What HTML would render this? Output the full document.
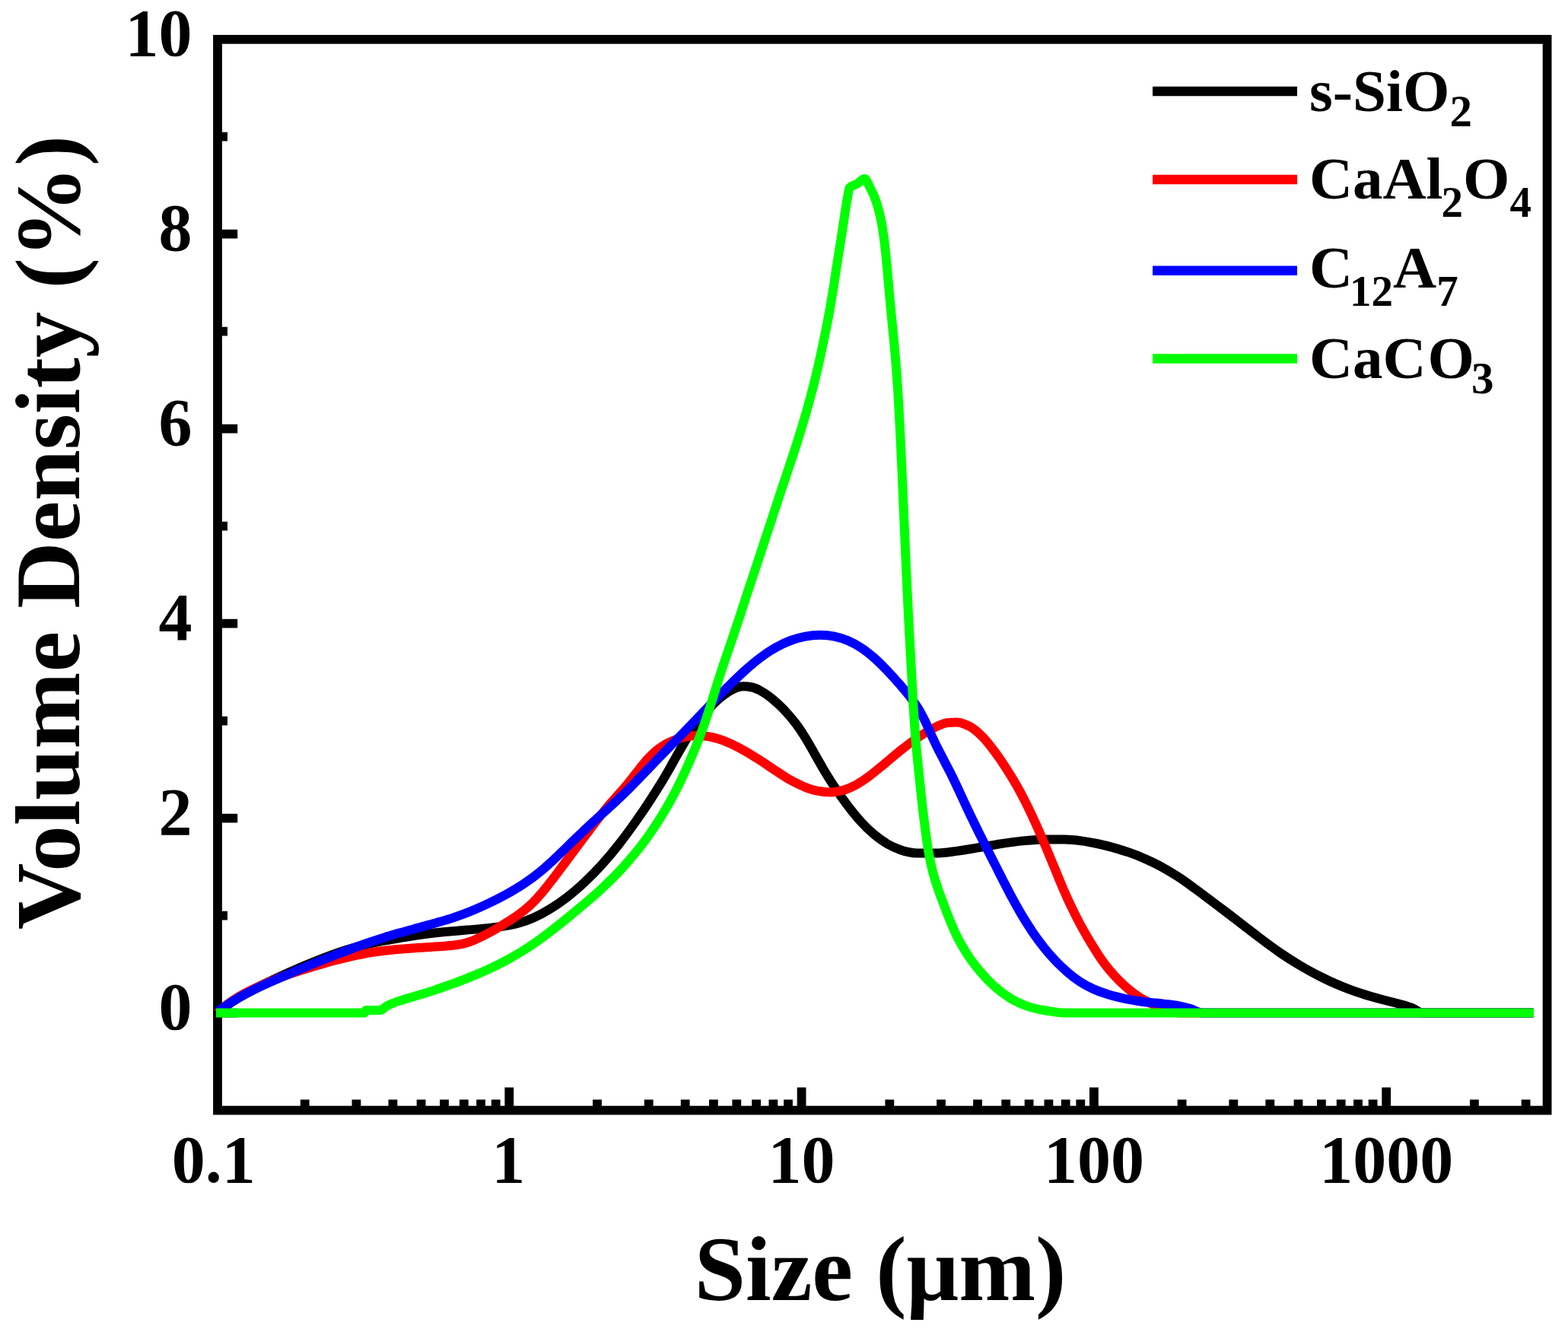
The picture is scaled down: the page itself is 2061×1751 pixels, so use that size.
<!DOCTYPE html>
<html><head><meta charset="utf-8"><title>Volume Density vs Size</title>
<style>html,body{margin:0;padding:0;background:#fff;}svg{display:block;}</style>
</head><body>
<svg width="2061" height="1751" viewBox="0 0 2061 1751"><rect x="0" y="0" width="2061" height="1751" fill="#fff"/>
<rect x="286.0" y="51.8" width="1747.6" height="1407.8" fill="none" stroke="#000" stroke-width="11.8"/>
<path d="M286.0,1331.6 h26.2 M286.0,1203.6 h13.0 M286.0,1075.6 h26.2 M286.0,947.6 h13.0 M286.0,819.6 h26.2 M286.0,691.6 h13.0 M286.0,563.6 h26.2 M286.0,435.6 h13.0 M286.0,307.6 h26.2 M286.0,179.6 h13.0 M400.7,1459.6 v-14.0 M468.4,1459.6 v-14.0 M516.4,1459.6 v-14.0 M553.6,1459.6 v-14.0 M584.0,1459.6 v-14.0 M609.8,1459.6 v-14.0 M632.1,1459.6 v-14.0 M651.7,1459.6 v-14.0 M669.3,1459.6 v-30.0 M785.0,1459.6 v-14.0 M852.7,1459.6 v-14.0 M900.7,1459.6 v-14.0 M937.9,1459.6 v-14.0 M968.3,1459.6 v-14.0 M994.1,1459.6 v-14.0 M1016.4,1459.6 v-14.0 M1036.0,1459.6 v-14.0 M1053.6,1459.6 v-30.0 M1169.3,1459.6 v-14.0 M1237.0,1459.6 v-14.0 M1285.0,1459.6 v-14.0 M1322.2,1459.6 v-14.0 M1352.6,1459.6 v-14.0 M1378.4,1459.6 v-14.0 M1400.7,1459.6 v-14.0 M1420.3,1459.6 v-14.0 M1437.9,1459.6 v-30.0 M1553.6,1459.6 v-14.0 M1621.3,1459.6 v-14.0 M1669.3,1459.6 v-14.0 M1706.5,1459.6 v-14.0 M1736.9,1459.6 v-14.0 M1762.7,1459.6 v-14.0 M1785.0,1459.6 v-14.0 M1804.6,1459.6 v-14.0 M1822.2,1459.6 v-30.0 M1937.9,1459.6 v-14.0 M2005.6,1459.6 v-14.0" stroke="#000" stroke-width="11.8" fill="none"/>
<path d="M285.6,1331.6 C289.9,1328.3 294.2,1324.7 298.5,1321.7 C303.9,1317.8 309.3,1314.5 314.7,1311.2 C321.1,1307.4 327.4,1304.0 333.8,1300.6 C340.8,1296.8 347.7,1293.4 354.7,1290.0 C362.4,1286.3 370.1,1282.8 377.8,1279.3 C386.3,1275.5 394.9,1271.7 403.5,1268.1 C412.9,1264.2 422.3,1260.3 431.8,1256.8 C441.5,1253.2 451.3,1249.8 461.0,1247.0 C470.3,1244.3 479.5,1242.0 488.8,1239.9 C497.2,1238.1 505.7,1236.5 514.1,1235.0 C522.1,1233.6 530.1,1232.2 538.1,1231.0 C546.1,1229.7 554.1,1228.5 562.2,1227.5 C570.5,1226.5 578.9,1225.6 587.3,1224.8 C595.9,1224.0 604.5,1223.4 613.1,1222.6 C621.5,1221.9 629.8,1221.3 638.2,1220.4 C645.7,1219.6 653.2,1219.0 660.7,1217.7 C667.4,1216.6 674.2,1215.5 680.9,1213.7 C687.7,1211.8 694.5,1209.4 701.2,1206.4 C708.5,1203.3 715.8,1199.4 723.0,1194.9 C730.6,1190.3 738.1,1185.1 745.7,1179.2 C753.3,1173.3 760.9,1166.8 768.5,1159.7 C776.1,1152.5 783.8,1144.8 791.4,1136.3 C799.0,1127.9 806.6,1118.8 814.2,1109.0 C821.6,1099.6 829.0,1089.4 836.4,1078.9 C842.7,1069.9 849.1,1060.5 855.4,1050.7 C860.2,1043.4 864.9,1036.0 869.7,1028.2 C873.4,1022.0 877.1,1015.6 880.8,1009.1 C884.3,1002.8 887.9,996.2 891.5,990.0 C895.3,983.3 899.1,976.6 902.9,970.5 C907.4,963.4 911.9,956.8 916.3,950.8 C921.5,943.7 926.8,937.3 932.0,931.6 C937.5,925.7 943.0,920.3 948.5,915.9 C953.5,911.9 958.6,908.3 963.6,906.0 C968.0,904.0 972.3,902.3 976.7,902.3 C980.6,902.3 984.6,902.7 988.5,903.5 C992.3,904.3 996.2,906.2 1000.0,908.2 C1003.8,910.3 1007.6,912.8 1011.4,915.7 C1015.2,918.6 1019.0,921.9 1022.8,925.4 C1026.6,929.0 1030.5,932.8 1034.3,937.1 C1038.2,941.4 1042.1,946.0 1046.0,951.2 C1050.1,956.6 1054.1,962.7 1058.1,969.2 C1062.1,975.6 1066.2,982.9 1070.2,989.9 C1074.2,996.8 1078.2,1004.2 1082.2,1011.0 C1086.8,1018.8 1091.4,1026.2 1096.1,1033.3 C1101.7,1041.9 1107.3,1049.9 1113.0,1057.4 C1119.1,1065.5 1125.1,1073.1 1131.2,1079.7 C1137.1,1086.2 1143.0,1092.0 1148.9,1096.9 C1154.6,1101.7 1160.3,1105.7 1165.9,1109.1 C1171.8,1112.5 1177.7,1115.2 1183.7,1117.2 C1190.7,1119.6 1197.7,1121.3 1204.7,1121.4 C1213.1,1121.5 1221.5,1121.6 1229.9,1121.6 C1238.9,1121.6 1248.0,1120.1 1257.1,1118.9 C1266.4,1117.7 1275.7,1115.9 1285.0,1114.4 C1294.8,1112.8 1304.6,1110.9 1314.4,1109.4 C1324.4,1107.9 1334.4,1106.4 1344.4,1105.4 C1354.0,1104.5 1363.5,1103.5 1373.1,1103.5 C1381.7,1103.5 1390.3,1103.5 1398.8,1103.6 C1406.3,1103.6 1413.8,1104.4 1421.3,1105.4 C1428.2,1106.3 1435.1,1107.6 1442.1,1109.0 C1449.0,1110.5 1456.0,1112.2 1462.9,1114.1 C1470.0,1116.1 1477.1,1118.2 1484.2,1120.7 C1491.4,1123.2 1498.5,1126.0 1505.7,1129.2 C1512.8,1132.3 1520.0,1135.8 1527.1,1139.7 C1534.2,1143.6 1541.4,1147.9 1548.5,1152.6 C1555.6,1157.2 1562.7,1162.4 1569.7,1167.5 C1576.6,1172.5 1583.4,1177.7 1590.2,1182.8 C1596.8,1187.7 1603.3,1192.7 1609.9,1197.6 C1616.9,1202.9 1623.8,1208.3 1630.8,1213.7 C1638.9,1219.9 1646.9,1226.3 1655.0,1232.3 C1663.8,1239.0 1672.7,1245.6 1681.5,1251.7 C1690.6,1257.9 1699.6,1263.7 1708.7,1269.1 C1717.8,1274.5 1726.8,1279.5 1735.9,1284.0 C1744.9,1288.6 1754.0,1292.7 1763.0,1296.4 C1772.1,1300.1 1781.1,1303.4 1790.2,1306.3 C1799.0,1309.2 1807.8,1311.6 1816.7,1314.0 C1824.4,1316.1 1832.1,1317.6 1839.8,1319.9 C1845.6,1321.6 1851.4,1323.1 1857.2,1325.5 C1861.5,1327.2 1865.7,1331.6 1870.0,1331.6 C1918.7,1331.6 1967.3,1331.6 2016.0,1331.6" fill="none" stroke="#000" stroke-width="12" stroke-linejoin="round"/>
<path d="M285.6,1331.6 C289.9,1327.9 294.2,1323.8 298.5,1320.4 C304.1,1316.1 309.7,1312.7 315.3,1309.3 C322.4,1305.1 329.6,1301.7 336.7,1298.3 C344.8,1294.5 352.8,1291.1 360.9,1287.8 C369.1,1284.5 377.4,1281.6 385.6,1278.8 C393.4,1276.1 401.1,1273.7 408.9,1271.4 C416.0,1269.2 423.1,1267.2 430.2,1265.2 C436.7,1263.4 443.2,1261.8 449.7,1260.2 C455.8,1258.7 461.8,1257.3 467.9,1256.0 C474.0,1254.7 480.2,1253.4 486.4,1252.4 C494.1,1251.1 501.7,1250.1 509.4,1249.2 C519.1,1248.1 528.8,1247.4 538.5,1246.7 C548.4,1245.9 558.3,1245.4 568.2,1244.8 C576.1,1244.2 584.0,1244.0 591.9,1243.0 C597.4,1242.4 602.9,1242.0 608.5,1240.6 C613.2,1239.5 617.9,1237.9 622.6,1236.1 C628.0,1233.9 633.3,1231.1 638.7,1228.4 C644.7,1225.3 650.7,1221.9 656.7,1218.3 C662.5,1214.9 668.2,1211.5 674.0,1207.6 C678.8,1204.4 683.6,1201.1 688.4,1197.2 C692.4,1194.0 696.3,1190.5 700.3,1186.6 C704.0,1182.9 707.8,1178.8 711.5,1174.5 C715.3,1170.1 719.1,1165.3 722.8,1160.4 C726.6,1155.6 730.5,1150.4 734.3,1145.3 C738.1,1140.2 741.9,1135.1 745.8,1130.0 C749.8,1124.6 753.8,1119.3 757.8,1114.0 C762.2,1108.2 766.5,1102.3 770.9,1096.5 C775.5,1090.4 780.0,1084.1 784.6,1078.2 C789.3,1072.1 793.9,1066.2 798.6,1060.6 C803.2,1055.1 807.9,1050.1 812.5,1044.8 C816.9,1039.7 821.3,1034.9 825.7,1029.5 C829.9,1024.5 834.1,1018.8 838.3,1013.6 C842.4,1008.4 846.6,1002.9 850.7,998.4 C854.8,993.9 858.9,989.8 863.0,986.4 C867.3,982.8 871.5,980.1 875.8,977.7 C880.5,975.1 885.2,973.2 889.9,971.6 C894.7,969.9 899.4,968.7 904.2,968.0 C908.8,967.3 913.3,967.0 917.9,967.0 C922.2,967.0 926.4,967.4 930.7,968.1 C934.9,968.8 939.2,969.8 943.4,971.0 C948.4,972.5 953.5,974.5 958.5,976.7 C964.9,979.5 971.4,982.9 977.8,986.4 C985.0,990.5 992.3,995.1 999.6,999.8 C1006.6,1004.3 1013.6,1009.4 1020.7,1013.9 C1027.0,1018.0 1033.3,1022.3 1039.6,1025.8 C1045.5,1029.0 1051.3,1031.9 1057.1,1034.3 C1062.8,1036.5 1068.6,1038.5 1074.3,1039.6 C1080.0,1040.8 1085.7,1041.4 1091.4,1041.4 C1097.1,1041.4 1102.8,1040.4 1108.5,1038.7 C1114.2,1037.1 1120.0,1034.5 1125.7,1031.4 C1131.2,1028.4 1136.8,1024.5 1142.4,1020.4 C1147.4,1016.7 1152.4,1012.5 1157.5,1008.4 C1161.7,1005.0 1165.8,1001.3 1170.0,997.8 C1173.8,994.6 1177.6,991.4 1181.4,988.3 C1186.0,984.7 1190.5,981.1 1195.0,977.7 C1200.8,973.4 1206.5,969.4 1212.3,965.7 C1218.2,962.0 1224.2,958.3 1230.1,955.6 C1235.1,953.3 1240.1,950.7 1245.1,950.1 C1249.2,949.7 1253.3,949.5 1257.5,949.5 C1261.4,949.5 1265.2,950.8 1269.1,952.4 C1272.9,953.9 1276.8,956.0 1280.6,958.8 C1284.8,961.9 1289.0,965.9 1293.2,970.4 C1297.9,975.6 1302.7,981.8 1307.5,988.2 C1312.5,994.9 1317.5,1002.2 1322.5,1010.0 C1327.1,1017.2 1331.7,1024.6 1336.4,1032.8 C1340.4,1040.0 1344.5,1047.6 1348.5,1055.6 C1352.1,1062.9 1355.8,1070.5 1359.4,1078.5 C1362.8,1085.8 1366.1,1093.4 1369.4,1101.2 C1372.5,1108.4 1375.7,1115.9 1378.8,1123.3 C1381.8,1130.5 1384.8,1137.9 1387.8,1145.1 C1390.8,1152.6 1393.9,1160.1 1397.0,1167.3 C1400.4,1175.1 1403.8,1182.8 1407.2,1190.0 C1410.9,1197.8 1414.6,1205.2 1418.3,1212.2 C1422.0,1219.1 1425.6,1225.4 1429.2,1231.7 C1432.4,1237.1 1435.6,1242.4 1438.8,1247.5 C1441.8,1252.3 1444.9,1257.2 1447.9,1261.5 C1451.4,1266.6 1455.0,1271.2 1458.5,1275.4 C1462.6,1280.3 1466.7,1284.6 1470.8,1288.7 C1475.0,1292.9 1479.2,1296.8 1483.4,1300.3 C1487.8,1304.0 1492.2,1307.3 1496.6,1310.2 C1501.8,1313.6 1506.9,1316.3 1512.1,1318.7 C1518.2,1321.6 1524.2,1323.7 1530.3,1325.8 C1536.9,1328.1 1543.4,1331.6 1550.0,1331.6 C1705.3,1331.6 1860.7,1331.6 2016.0,1331.6" fill="none" stroke="#f00" stroke-width="12" stroke-linejoin="round"/>
<path d="M285.6,1330.0 C289.9,1327.0 294.2,1323.8 298.6,1321.0 C304.0,1317.4 309.3,1314.1 314.7,1311.0 C321.0,1307.4 327.2,1304.2 333.5,1301.1 C340.0,1297.9 346.4,1294.9 352.9,1292.0 C359.4,1289.1 365.8,1286.3 372.3,1283.5 C378.8,1280.7 385.3,1277.9 391.7,1275.2 C398.2,1272.5 404.7,1269.8 411.2,1267.1 C417.6,1264.5 424.1,1261.9 430.6,1259.3 C437.0,1256.8 443.3,1254.3 449.7,1251.9 C455.8,1249.6 461.8,1247.2 467.9,1245.0 C473.8,1242.8 479.7,1240.7 485.7,1238.7 C492.1,1236.5 498.6,1234.4 505.1,1232.4 C512.3,1230.1 519.6,1228.0 526.8,1225.9 C534.5,1223.7 542.2,1221.7 549.9,1219.6 C557.7,1217.4 565.4,1215.4 573.2,1213.2 C581.0,1210.9 588.7,1208.7 596.5,1206.1 C604.2,1203.5 612.0,1200.7 619.7,1197.5 C627.5,1194.4 635.2,1190.9 643.0,1187.2 C650.8,1183.5 658.5,1179.6 666.2,1175.3 C673.9,1171.0 681.6,1166.5 689.3,1161.3 C696.8,1156.2 704.4,1150.6 711.9,1144.3 C719.5,1138.1 727.0,1130.9 734.5,1123.8 C742.0,1116.7 749.6,1108.9 757.2,1101.7 C764.7,1094.5 772.2,1087.4 779.7,1080.5 C787.0,1073.8 794.2,1067.6 801.4,1060.9 C808.2,1054.6 815.1,1048.3 821.9,1041.7 C828.6,1035.1 835.4,1028.1 842.1,1021.1 C849.2,1013.8 856.3,1006.3 863.4,998.9 C870.8,991.2 878.3,983.7 885.7,976.0 C893.3,968.3 900.9,960.6 908.4,952.8 C916.0,945.0 923.6,937.0 931.2,929.1 C938.9,921.3 946.5,913.2 954.1,905.6 C961.7,898.0 969.3,890.4 976.9,883.5 C984.2,876.9 991.5,870.5 998.9,865.0 C1005.8,859.8 1012.7,855.1 1019.6,851.2 C1026.2,847.5 1032.7,844.4 1039.3,842.0 C1045.8,839.6 1052.2,837.8 1058.7,836.6 C1065.2,835.3 1071.7,834.7 1078.2,834.7 C1084.4,834.7 1090.6,835.3 1096.7,836.6 C1102.6,837.8 1108.4,839.6 1114.2,842.1 C1119.9,844.6 1125.7,847.6 1131.4,851.3 C1137.1,855.0 1142.8,859.5 1148.5,864.4 C1154.2,869.3 1159.8,875.0 1165.5,880.9 C1170.8,886.5 1176.2,892.4 1181.6,898.6 C1186.4,904.1 1191.1,909.3 1195.9,915.6 C1199.8,920.7 1203.6,925.6 1207.4,932.0 C1210.4,937.0 1213.3,942.6 1216.3,948.7 C1218.8,954.0 1221.4,960.2 1224.0,965.7 C1226.7,971.6 1229.4,977.4 1232.1,982.8 C1235.1,989.0 1238.2,994.6 1241.2,1000.5 C1244.6,1007.1 1248.0,1013.4 1251.4,1020.2 C1254.9,1027.3 1258.4,1034.9 1261.9,1042.5 C1265.5,1050.2 1269.2,1058.2 1272.8,1065.9 C1276.5,1073.9 1280.3,1081.6 1284.1,1089.2 C1287.9,1097.1 1291.8,1104.6 1295.6,1112.2 C1299.4,1119.8 1303.2,1127.2 1306.9,1134.7 C1310.7,1142.1 1314.4,1149.6 1318.2,1156.9 C1322.1,1164.5 1326.0,1172.3 1330.0,1179.6 C1334.4,1187.7 1338.8,1195.6 1343.2,1203.1 C1348.1,1211.2 1353.0,1218.9 1357.8,1226.1 C1362.8,1233.4 1367.9,1240.2 1372.9,1246.4 C1378.0,1252.8 1383.1,1258.5 1388.2,1263.8 C1393.5,1269.2 1398.7,1274.2 1403.9,1278.7 C1409.2,1283.2 1414.5,1287.2 1419.8,1290.7 C1425.5,1294.4 1431.2,1297.3 1436.9,1300.0 C1443.4,1303.0 1450.0,1305.2 1456.6,1307.3 C1464.3,1309.7 1472.1,1311.5 1479.8,1313.1 C1488.3,1314.9 1496.8,1316.1 1505.3,1317.2 C1513.3,1318.2 1521.3,1318.7 1529.3,1319.6 C1535.8,1320.4 1542.2,1320.9 1548.7,1322.1 C1554.0,1323.2 1559.4,1324.5 1564.7,1326.1 C1569.8,1327.7 1574.9,1331.6 1580.0,1331.6 C1725.3,1331.6 1870.7,1331.6 2016.0,1331.6" fill="none" stroke="#00f" stroke-width="12" stroke-linejoin="round"/>
<path d="M284.0,1331.6 C349.0,1331.6 414.0,1331.6 479.0,1331.6 C479.7,1331.6 480.3,1328.0 481.0,1328.0 C487.0,1328.0 493.0,1328.0 499.0,1328.0 C502.3,1328.0 505.6,1323.9 508.8,1322.2 C512.9,1320.1 517.0,1318.5 521.0,1317.0 C526.1,1315.1 531.1,1313.8 536.2,1312.2 C541.9,1310.5 547.6,1309.0 553.3,1307.3 C559.3,1305.5 565.2,1303.6 571.2,1301.6 C577.3,1299.6 583.5,1297.4 589.6,1295.2 C595.9,1292.9 602.2,1290.6 608.6,1288.1 C615.0,1285.6 621.5,1283.1 627.9,1280.4 C634.4,1277.6 640.8,1274.8 647.3,1271.7 C653.8,1268.6 660.3,1265.3 666.7,1261.8 C673.2,1258.3 679.7,1254.5 686.2,1250.5 C692.7,1246.5 699.2,1242.1 705.7,1237.6 C712.4,1232.9 719.0,1227.9 725.7,1222.7 C732.7,1217.4 739.7,1211.7 746.6,1206.0 C754.0,1200.1 761.3,1194.0 768.7,1187.7 C776.2,1181.3 783.8,1174.8 791.3,1167.8 C798.9,1160.7 806.5,1153.5 814.0,1145.4 C821.3,1137.7 828.5,1129.6 835.7,1120.6 C842.0,1112.7 848.4,1104.4 854.7,1095.3 C859.7,1088.0 864.8,1080.5 869.9,1072.2 C873.9,1065.7 877.8,1059.0 881.8,1051.7 C885.3,1045.4 888.7,1038.8 892.2,1031.7 C895.5,1025.0 898.8,1018.0 902.1,1010.6 C905.3,1003.5 908.5,996.1 911.7,988.4 C914.7,981.1 917.8,973.7 920.8,965.6 C923.5,958.4 926.2,950.9 928.9,942.8 C931.3,935.6 933.7,927.7 936.2,920.0 C938.5,912.5 940.9,904.7 943.2,897.3 C945.6,889.8 948.0,882.4 950.3,875.3 C952.7,868.2 955.1,861.4 957.5,854.4 C959.9,847.4 962.3,840.5 964.6,833.4 C967.2,825.7 969.8,817.9 972.4,810.1 C975.2,801.6 978.0,792.8 980.8,784.2 C983.8,775.2 986.8,766.1 989.8,757.1 C992.8,747.9 995.9,738.8 998.9,729.6 C1001.9,720.5 1004.9,711.4 1007.9,702.2 C1011.0,693.0 1014.0,683.7 1017.0,674.5 C1020.2,664.8 1023.4,655.1 1026.6,645.4 C1030.2,634.6 1033.8,624.0 1037.4,613.1 C1041.2,601.4 1045.1,589.9 1049.0,577.6 C1052.7,565.7 1056.4,553.8 1060.1,540.7 C1063.3,529.2 1066.6,517.4 1069.9,504.3 C1072.6,493.1 1075.4,481.3 1078.2,468.7 C1080.6,457.8 1083.0,446.5 1085.4,434.4 C1087.4,424.5 1089.3,414.6 1091.3,403.4 C1092.7,395.0 1094.2,386.1 1095.7,376.9 C1096.8,369.6 1098.0,361.6 1099.1,354.1 C1100.2,347.0 1101.3,340.0 1102.4,333.1 C1103.5,326.2 1104.6,319.6 1105.7,312.6 C1106.7,306.1 1107.7,299.4 1108.7,292.7 C1109.6,286.7 1110.5,280.3 1111.4,274.6 C1112.3,269.3 1113.1,264.2 1114.0,259.5 C1114.8,255.0 1115.7,247.9 1116.5,247.0 C1119.9,243.3 1123.4,243.6 1126.8,241.5 C1130.0,239.5 1133.3,235.0 1136.5,235.0 C1138.8,235.0 1141.1,241.9 1143.4,246.2 C1145.4,250.0 1147.4,253.7 1149.5,259.0 C1151.2,263.4 1152.8,268.0 1154.5,274.5 C1155.9,279.7 1157.3,285.1 1158.7,292.7 C1159.7,298.5 1160.7,304.6 1161.8,312.6 C1162.6,318.7 1163.4,325.4 1164.2,333.1 C1164.8,339.5 1165.5,346.8 1166.2,354.1 C1166.8,361.4 1167.5,369.4 1168.2,376.9 C1169.0,385.9 1169.8,394.7 1170.6,403.4 C1171.6,414.0 1172.6,423.8 1173.6,434.4 C1174.7,445.6 1175.7,456.1 1176.8,468.7 C1177.7,479.7 1178.6,490.6 1179.5,504.3 C1180.3,515.3 1181.0,527.4 1181.7,540.9 C1182.4,552.7 1183.0,566.0 1183.7,579.4 C1184.3,592.6 1184.9,606.7 1185.6,620.7 C1186.2,635.3 1186.9,650.3 1187.5,665.3 C1188.2,680.6 1188.8,696.3 1189.5,711.5 C1190.2,726.7 1190.8,742.0 1191.5,756.5 C1192.2,770.9 1192.8,784.7 1193.5,798.0 C1194.1,810.9 1194.8,823.1 1195.4,835.3 C1196.0,846.8 1196.7,857.8 1197.3,869.2 C1197.8,879.7 1198.4,890.6 1199.0,901.0 C1199.5,911.5 1200.1,922.4 1200.7,931.9 C1201.4,943.3 1202.1,953.2 1202.8,962.5 C1203.7,974.5 1204.6,983.9 1205.5,993.7 C1206.6,1005.5 1207.7,1015.8 1208.8,1026.2 C1210.0,1037.9 1211.2,1049.1 1212.4,1059.8 C1213.8,1071.4 1215.1,1082.7 1216.4,1092.6 C1217.9,1103.6 1219.3,1113.5 1220.8,1121.9 C1222.5,1131.8 1224.2,1139.0 1226.0,1146.0 C1228.1,1154.5 1230.2,1160.2 1232.3,1166.5 C1234.7,1174.0 1237.2,1180.3 1239.7,1186.9 C1242.5,1194.4 1245.3,1201.9 1248.1,1208.7 C1251.4,1216.9 1254.7,1224.6 1258.1,1231.4 C1262.4,1240.3 1266.8,1247.3 1271.1,1254.1 C1276.6,1262.8 1282.2,1269.7 1287.7,1276.3 C1294.1,1284.0 1300.5,1290.5 1306.8,1296.3 C1313.6,1302.5 1320.5,1307.6 1327.3,1311.9 C1334.2,1316.2 1341.2,1319.3 1348.2,1322.0 C1354.8,1324.4 1361.4,1326.0 1368.0,1327.4 C1373.7,1328.6 1379.5,1329.3 1385.2,1330.1 C1390.1,1330.7 1395.1,1331.6 1400.0,1331.6 C1605.3,1331.6 1810.7,1331.6 2016.0,1331.6" fill="none" stroke="#0f0" stroke-width="12" stroke-linejoin="round"/>
<text x="252.5" y="1352.6" font-family="'Liberation Serif', 'Times New Roman', serif" font-weight="bold" font-size="88" text-anchor="end">0</text>
<text x="252.5" y="1096.6" font-family="'Liberation Serif', 'Times New Roman', serif" font-weight="bold" font-size="88" text-anchor="end">2</text>
<text x="252.5" y="840.6" font-family="'Liberation Serif', 'Times New Roman', serif" font-weight="bold" font-size="88" text-anchor="end">4</text>
<text x="252.5" y="584.6" font-family="'Liberation Serif', 'Times New Roman', serif" font-weight="bold" font-size="88" text-anchor="end">6</text>
<text x="252.5" y="328.6" font-family="'Liberation Serif', 'Times New Roman', serif" font-weight="bold" font-size="88" text-anchor="end">8</text>
<text x="252.5" y="72.6" font-family="'Liberation Serif', 'Times New Roman', serif" font-weight="bold" font-size="88" text-anchor="end">10</text>
<text x="280.7" y="1554" font-family="'Liberation Serif', 'Times New Roman', serif" font-weight="bold" font-size="88" text-anchor="middle">0.1</text>
<text x="668.3" y="1554" font-family="'Liberation Serif', 'Times New Roman', serif" font-weight="bold" font-size="88" text-anchor="middle">1</text>
<text x="1053.6" y="1554" font-family="'Liberation Serif', 'Times New Roman', serif" font-weight="bold" font-size="88" text-anchor="middle">10</text>
<text x="1437.9" y="1554" font-family="'Liberation Serif', 'Times New Roman', serif" font-weight="bold" font-size="88" text-anchor="middle">100</text>
<text x="1822.2" y="1554" font-family="'Liberation Serif', 'Times New Roman', serif" font-weight="bold" font-size="88" text-anchor="middle">1000</text>
<text x="1157" y="1709" font-family="'Liberation Serif', 'Times New Roman', serif" font-weight="bold" font-size="121" text-anchor="middle">Size (μm)</text>
<text transform="translate(104,700) rotate(-90)" x="0" y="0" font-family="'Liberation Serif', 'Times New Roman', serif" font-weight="bold" font-size="121" text-anchor="middle">Volume Density (%)</text>
<line x1="1515" y1="120.0" x2="1705" y2="120.0" stroke="#000" stroke-width="12.5"/>
<text x="1721" y="146.4" font-family="'Liberation Serif', 'Times New Roman', serif" font-weight="bold" font-size="79"><tspan>s-SiO</tspan><tspan font-size="59" dy="19.7">2</tspan></text>
<line x1="1515" y1="236.0" x2="1705" y2="236.0" stroke="#f00" stroke-width="12.5"/>
<text x="1721" y="261.3" font-family="'Liberation Serif', 'Times New Roman', serif" font-weight="bold" font-size="79"><tspan>CaAl</tspan><tspan font-size="57" dy="24" dx="-2">2</tspan><tspan dy="-24">O</tspan><tspan font-size="57" dy="24">4</tspan></text>
<line x1="1515" y1="355.8" x2="1705" y2="355.8" stroke="#00f" stroke-width="12.5"/>
<text x="1721" y="378.2" font-family="'Liberation Serif', 'Times New Roman', serif" font-weight="bold" font-size="79"><tspan>C</tspan><tspan font-size="57" dy="23.5" dx="-4">12</tspan><tspan dy="-23.5">A</tspan><tspan font-size="57" dy="23.5">7</tspan></text>
<line x1="1515" y1="471.6" x2="1705" y2="471.6" stroke="#0f0" stroke-width="12.5"/>
<text x="1721" y="497.3" font-family="'Liberation Serif', 'Times New Roman', serif" font-weight="bold" font-size="79"><tspan>CaC</tspan><tspan dx="2">O</tspan><tspan font-size="59" dy="19.7" dx="-4">3</tspan></text></svg>
</body></html>
